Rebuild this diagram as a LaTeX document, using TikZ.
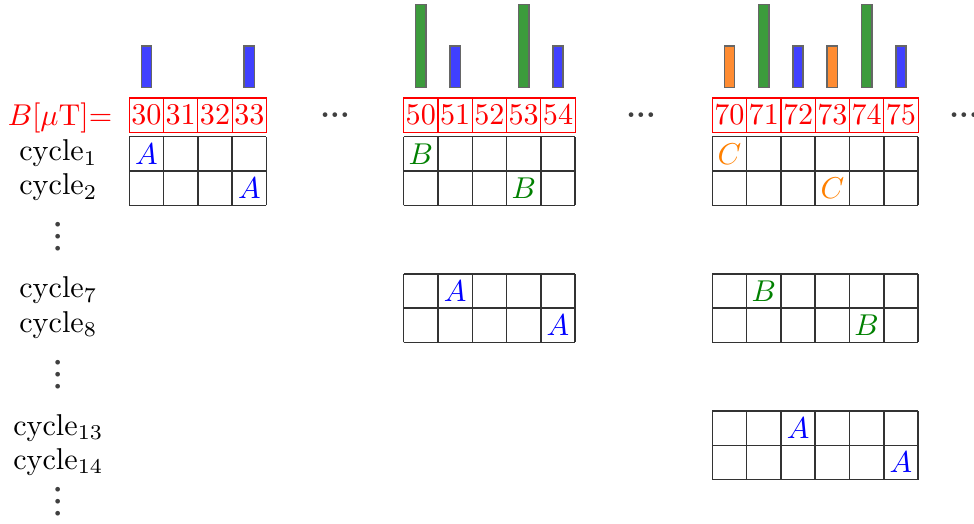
\documentclass[tikz,border=0pt]{standalone}
\usepackage{amssymb}
\usepackage{amsmath}
\usepackage{tikz}
\usetikzlibrary{positioning}

\definecolor{barblue}{RGB}{64,64,255}
\definecolor{bargreen}{RGB}{60,155,60}
\definecolor{barorange}{RGB}{255,140,50}
\definecolor{lettergreen}{RGB}{0,128,0}

\begin{document}
\begin{tikzpicture}[x=0.4cm, y=0.4cm,
  cell/.style={draw=black!80, line width=0.5pt},
  head/.style={draw=red, line width=0.4pt, text=red, minimum size=0.4cm, inner sep=0pt},
  bar/.style={draw=black!60, line width=0.5pt},
  cyc/.style={anchor=base, inner sep=0pt},
  ellip/.style={inner sep=0pt, text=black!75, font=\bfseries},
  vellip/.style={ellip, rotate=90}]

  \useasboundingbox (-0.77,0.985) rectangle (27.63,-14.265);

  % Field values on top
  \node[red, anchor=base east, inner sep=0pt] (field) at (2.52,-2.688) {$B[\mu\mathrm{T}]$=};
  \foreach \n in {30,...,33} \node[head] (h\n) at (\n-26.5,-2.372) {\n};
  \foreach \n in {50,...,54} \node[head] (h\n) at (\n-38.5,-2.372) {\n};
  \foreach \n in {70,...,75} \node[head] (h\n) at (\n-49.5,-2.372) {\n};

  % Bars above the values
  \foreach \n in {30,33,51,54,72,75}
    \draw[bar, fill=barblue] ([shift={(-0.15,0.283)}]h\n.north) rectangle ++(0.3,1.212);
  \foreach \n in {70,73}
    \draw[bar, fill=barorange] ([shift={(-0.15,0.283)}]h\n.north) rectangle ++(0.3,1.212);
  \foreach \n in {50,53,71,74}
    \draw[bar, fill=bargreen] ([shift={(-0.15,0.283)}]h\n.north) rectangle ++(0.3,2.42);

  % Dots between the blocks
  \node[ellip] (d1) at (9,-2.377) {.\kern0.1pt.\kern0.1pt.};
  \node[ellip] (d2) at (17.92,-2.377) {.\kern0.1pt.\kern0.1pt.};
  \node[ellip] (d3) at (27.34,-2.377) {.\kern0.1pt.\kern0.1pt.};

  % Cycle labels
  \node[cyc] (c1) at (0.93,-3.7) {cycle$_1$};
  \node[cyc] (c2) at (0.93,-4.7) {cycle$_2$};
  \node[vellip] (v1) at (0.93,-5.93) {.\kern0.8pt.\kern0.8pt.};
  \node[cyc] (c7) at (0.93,-7.7) {cycle$_7$};
  \node[cyc] (c8) at (0.93,-8.7) {cycle$_8$};
  \node[vellip] (v2) at (0.93,-9.95) {.\kern0.8pt.\kern0.8pt.};
  \node[cyc] (c13) at (0.93,-11.7) {cycle$_{13}$};
  \node[cyc] (c14) at (0.93,-12.7) {cycle$_{14}$};
  \node[vellip] (v3) at (0.93,-13.65) {.\kern0.8pt.\kern0.8pt.};

  % Grids
  \draw[cell, step=1] (3,-3) grid (7,-5);
  \draw[cell, step=1] (11,-3) grid (16,-5);
  \draw[cell, step=1] (11,-7) grid (16,-9);
  \draw[cell, step=1] (20,-3) grid (26,-5);
  \draw[cell, step=1] (20,-7) grid (26,-9);
  \draw[cell, step=1] (20,-11) grid (26,-13);

  % Entries
  \node[text=blue] (a1) at (3.5,-3.5) {$A$};
  \node[text=blue] (a2) at (6.5,-4.5) {$A$};
  \node[text=lettergreen] (b1) at (11.5,-3.5) {$B$};
  \node[text=lettergreen] (b2) at (14.5,-4.5) {$B$};
  \node[text=blue] (a7) at (12.5,-7.5) {$A$};
  \node[text=blue] (a8) at (15.5,-8.5) {$A$};
  \node[text=orange] (cc1) at (20.5,-3.5) {$C$};
  \node[text=orange] (cc2) at (23.5,-4.5) {$C$};
  \node[text=lettergreen] (b7) at (21.5,-7.5) {$B$};
  \node[text=lettergreen] (b8) at (24.5,-8.5) {$B$};
  \node[text=blue] (a13) at (22.5,-11.5) {$A$};
  \node[text=blue] (a14) at (25.5,-12.5) {$A$};

\end{tikzpicture}
\end{document}
